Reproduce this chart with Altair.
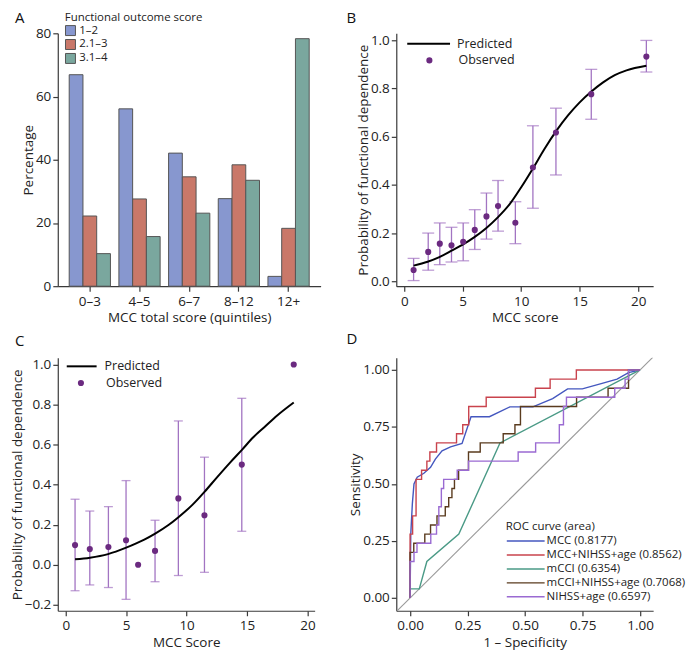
import altair as alt
import pandas as pd

FONT = "Open Sans"
INK = "#222222"
AXC = "#3a3a3a"

# ---------------- Panel A data ----------------
quintiles = ["0–3", "4–5", "6–7", "8–12", "12+"]
outcome_levels = ["1–2", "2.1–3", "3.1–4"]
pct_1_2 = [66.9, 56.1, 42.1, 27.7, 3.1]
pct_2_3 = [22.2, 27.6, 34.6, 38.4, 18.3]
pct_3_4 = [10.3, 15.7, 23.1, 33.5, 78.3]
bar_colors = ["#8797CF", "#C97869", "#7AA79E"]

# ---------------- Panel B data ----------------
b_curve_x = [0.8, 2, 3, 4, 5, 6, 7, 8, 9, 10, 11, 12, 13, 14, 15, 16, 17, 18, 19, 20.7]
b_curve_y = [0.065, 0.081, 0.10, 0.126, 0.152, 0.183, 0.22, 0.265, 0.319, 0.39, 0.468, 0.55,
             0.624, 0.688, 0.742, 0.787, 0.825, 0.855, 0.875, 0.894]
b_obs_x = [0.8, 2.05, 3.04, 4.04, 5.04, 6.03, 7.03, 8.02, 9.5, 11.0, 12.97, 15.99, 20.7]
b_obs_y = [0.047, 0.122, 0.156, 0.149, 0.164, 0.213, 0.269, 0.312, 0.243, 0.472, 0.617, 0.776, 0.932]
b_obs_lo = [0.003, 0.046, 0.069, 0.08, 0.085, 0.132, 0.175, 0.208, 0.156, 0.303, 0.441, 0.672, 0.868]
b_obs_hi = [0.095, 0.2, 0.242, 0.224, 0.242, 0.297, 0.366, 0.418, 0.33, 0.645, 0.718, 0.879, 0.999]

# ---------------- Panel C data ----------------
c_curve_x = [0.77, 2.0, 3.5, 5.0, 6.5, 7.4, 8.5, 9.3, 10.5, 11.5, 12.5, 13.6, 14.6, 15.5, 16.5,
             17.5, 18.87]
c_curve_y = [0.027, 0.035, 0.053, 0.085, 0.125, 0.155, 0.198, 0.236, 0.30, 0.365, 0.435, 0.51,
             0.575, 0.635, 0.69, 0.745, 0.81]
c_obs_x = [0.77, 1.99, 3.53, 4.99, 5.99, 7.39, 9.32, 11.48, 14.57, 18.87]
c_obs_y = [0.098, 0.078, 0.088, 0.122, 0.0, 0.069, 0.331, 0.247, 0.50, 1.0]
c_obs_lo = [-0.13, -0.101, -0.114, -0.173, None, -0.085, -0.054, -0.038, 0.167, None]
c_obs_hi = [0.327, 0.268, 0.29, 0.42, None, 0.222, 0.718, 0.537, 0.831, None]

# ---------------- Panel D data (ROC) ----------------
roc_names = ["MCC (0.8177)", "MCC+NIHSS+age (0.8562)", "mCCI (0.6354)",
             "mCCI+NIHSS+age (0.7068)", "NIHSS+age (0.6597)"]
roc_colors = ["#4457BF", "#C9434D", "#4A9A86", "#5A3B1E", "#9A6AD2"]
# smooth / linear curves
mcc_fpr = [0, 0.003, 0.01, 0.017, 0.031, 0.06, 0.089, 0.11, 0.139, 0.176, 0.226, 0.265, 0.345,
           0.434, 0.534, 0.62, 0.685, 0.749, 0.835, 0.9, 0.95, 1.0]
mcc_tpr = [0, 0.28, 0.415, 0.50, 0.53, 0.547, 0.573, 0.609, 0.645, 0.663, 0.678, 0.795, 0.795,
           0.838, 0.838, 0.874, 0.917, 0.917, 0.941, 0.96, 0.988, 1.0]
mcci_fpr = [0, 0, 0.04, 0.073, 0.212, 0.391, 1.0]
mcci_tpr = [0, 0.04, 0.04, 0.16, 0.28, 0.68, 1.0]
# step curves: (fpr where the rise happens, sensitivity after the rise)
mccx_fpr = [0, 0, 0.011, 0.026, 0.05, 0.073, 0.086, 0.115, 0.202, 0.229, 0.255, 0.331, 0.545,
            0.609, 0.723, 1.0]
mccx_tpr = [0, 0.28, 0.36, 0.52, 0.56, 0.60, 0.64, 0.68, 0.72, 0.76, 0.84, 0.88, 0.92, 0.96, 1.0, 1.0]
mccix_fpr = [0, 0, 0.016, 0.064, 0.089, 0.117, 0.153, 0.168, 0.182, 0.193, 0.211, 0.254, 0.305,
             0.405, 0.456, 0.48, 0.724, 0.861, 0.95, 1.0]
mccix_tpr = [0, 0.20, 0.24, 0.28, 0.32, 0.36, 0.40, 0.44, 0.48, 0.52, 0.56, 0.64, 0.68, 0.72, 0.76,
             0.84, 0.88, 0.92, 1.0, 1.0]
nihss_fpr = [0, 0, 0.017, 0.03, 0.09, 0.115, 0.125, 0.136, 0.146, 0.205, 0.254, 0.47, 0.546, 0.649,
             0.667, 0.68, 0.89, 0.935, 0.95, 1.0]
nihss_tpr = [0, 0.16, 0.20, 0.24, 0.28, 0.32, 0.40, 0.48, 0.52, 0.56, 0.60, 0.64, 0.68, 0.76, 0.84,
             0.88, 0.92, 0.96, 1.0, 1.0]
diag = [-0.06, 1.06]

# ---------------- Tables ----------------
rowsA = []
for lvl, vals in zip(outcome_levels, [pct_1_2, pct_2_3, pct_3_4]):
    for q, v in zip(quintiles, vals):
        rowsA.append({"quintile": q, "score": lvl, "pct": v})
dfA = pd.DataFrame(rowsA)

dfB_curve = pd.DataFrame({"x": b_curve_x, "y": b_curve_y, "s": "Predicted"})
dfB_obs = pd.DataFrame({"x": b_obs_x, "y": b_obs_y, "lo": b_obs_lo, "hi": b_obs_hi, "s": "Observed"})
dfC_curve = pd.DataFrame({"x": c_curve_x, "y": c_curve_y, "s": "Predicted"})
dfC_obs = pd.DataFrame({"x": c_obs_x, "y": c_obs_y, "lo": c_obs_lo, "hi": c_obs_hi, "s": "Observed"})
dfC_err = dfC_obs.dropna()


def roc_df(name, xs, ys):
    return pd.DataFrame({"fpr": xs, "tpr": ys, "series": name, "ord": list(range(len(xs)))})


dfD_lin = pd.concat([roc_df(roc_names[0], mcc_fpr, mcc_tpr),
                     roc_df(roc_names[2], mcci_fpr, mcci_tpr)])
dfD_step = pd.concat([roc_df(roc_names[1], mccx_fpr, mccx_tpr),
                      roc_df(roc_names[3], mccix_fpr, mccix_tpr),
                      roc_df(roc_names[4], nihss_fpr, nihss_tpr)])
dfD_diag = pd.DataFrame({"fpr": diag, "tpr": diag})


def panel_letter(t, px, py):
    # panel tag placed relative to the panel's plot area (annotation, not data)
    return alt.Chart(pd.DataFrame({"t": [t]})).mark_text(
        fontSize=15, font=FONT, color="#111111", align="left", baseline="top"
    ).encode(text="t:N", x=alt.value(px), y=alt.value(py))


def line_symbol(k):
    # horizontal stroke starting at the legend's left edge, k symbol-radii long to the right
    return f"M-1,0H{k}"


# ---------------- Panel A ----------------
barsA = alt.Chart(dfA).mark_bar(stroke="#555555", strokeWidth=1).encode(
    x=alt.X("quintile:N", sort=quintiles,
            scale=alt.Scale(paddingInner=0.17, paddingOuter=0.23),
            axis=alt.Axis(title="MCC total score (quintiles)", labelAngle=0)),
    xOffset=alt.XOffset("score:N", sort=outcome_levels,
                        scale=alt.Scale(paddingInner=0, paddingOuter=0)),
    y=alt.Y("pct:Q", scale=alt.Scale(domain=[0, 80], nice=False),
            axis=alt.Axis(title="Percentage", values=[0, 20, 40, 60, 80])),
    color=alt.Color("score:N", sort=outcome_levels,
                    scale=alt.Scale(domain=outcome_levels, range=bar_colors),
                    legend=alt.Legend(title="Functional outcome score", orient="none",
                                      legendX=7, legendY=-21, symbolType="square",
                                      symbolSize=100, symbolStrokeColor="#555555",
                                      symbolStrokeWidth=1, labelFontSize=11.5,
                                      titleFontSize=11.5, titleFontWeight="normal",
                                      rowPadding=-1, titlePadding=1, labelOffset=3,
                                      padding=0)),
)
chartA = alt.layer(barsA, panel_letter("A", -43, -22)).properties(width=264, height=254)

# ---------------- Panels B and C ----------------
purple_dot = "#6B2A80"
purple_err = "#A274C2"


def prob_panel(df_curve, df_obs, df_err, xdom, ydom, yvals, xtitle, cap, leg_line, leg_dot, tag):
    xs = alt.Scale(domain=xdom, nice=False, zero=False)
    ys = alt.Scale(domain=ydom, nice=False, zero=False)
    xa = alt.Axis(title=xtitle, values=[0, 5, 10, 15, 20])
    ya = alt.Axis(title="Probability of functional dependence", values=yvals, format=".1f")
    err = alt.Chart(df_err).mark_errorbar(ticks=True, size=cap, thickness=1.3, color=purple_err).encode(
        x=alt.X("x:Q", scale=xs, axis=xa),
        y=alt.Y("lo:Q", scale=ys, axis=ya),
        y2="hi:Q",
    )
    line = alt.Chart(df_curve).mark_line(strokeWidth=2, interpolate="monotone").encode(
        x=alt.X("x:Q", scale=xs, axis=xa),
        y=alt.Y("y:Q", scale=ys, axis=ya),
        color=alt.Color("s:N", scale=alt.Scale(domain=["Predicted"], range=["#000000"]),
                        legend=alt.Legend(title=None, orient="none", legendX=leg_line[0],
                                          legendY=leg_line[1], symbolType=line_symbol(leg_line[2]),
                                          symbolSize=169, symbolStrokeWidth=2,
                                          symbolStrokeColor="#000000",
                                          labelFontSize=12.5, labelOffset=leg_line[3], padding=0)),
    )
    pts = alt.Chart(df_obs).mark_point(filled=True, size=38, opacity=1, color=purple_dot).encode(
        x=alt.X("x:Q", scale=xs, axis=xa),
        y=alt.Y("y:Q", scale=ys, axis=ya),
        shape=alt.Shape("s:N", scale=alt.Scale(domain=["Observed"], range=["circle"]),
                        legend=alt.Legend(title=None, orient="none", legendX=leg_dot[0],
                                          legendY=leg_dot[1], symbolSize=38,
                                          symbolFillColor=purple_dot, symbolStrokeWidth=0,
                                          labelFontSize=12.5, labelOffset=leg_dot[2], padding=0)),
    )
    return alt.layer(err, line, pts, tag).resolve_legend(color="independent", shape="independent")


chartB = prob_panel(dfB_curve, dfB_obs, dfB_obs, [-0.68, 21.28], [-0.0203, 1.0285],
                    [0, 0.2, 0.4, 0.6, 0.8, 1.0], "MCC score", 12,
                    (10, 3, 5.615, 36), (27, 21, 23), panel_letter("B", -50, -22)).properties(
    width=258, height=254)

chartC = prob_panel(dfC_curve, dfC_obs, dfC_err, [-0.66, 20.6], [-0.23, 1.033],
                    [-0.2, 0, 0.2, 0.4, 0.6, 0.8, 1.0], "MCC Score", 9,
                    (8, 1, 3.615, 24), (17, 19, 19), panel_letter("C", -43, -24)).properties(
    width=258, height=254)

# ---------------- Panel D ----------------
xsD = alt.Scale(domain=[-0.06, 1.057], nice=False, zero=False)
ysD = alt.Scale(domain=[-0.056, 1.053], nice=False, zero=False)
xaD = alt.Axis(title="1 – Specificity", values=[0, 0.25, 0.5, 0.75, 1.0], format=".2f")
yaD = alt.Axis(title="Sensitivity", values=[0, 0.25, 0.5, 0.75, 1.0], format=".2f")
legD = alt.Legend(title="ROC curve (area)", orient="none", legendX=110, legendY=164,
                  symbolType=line_symbol(4.846), symbolSize=169, symbolStrokeWidth=1.5,
                  labelFontSize=11.5, titleFontSize=11.5, titleFontWeight="normal",
                  rowPadding=1, labelOffset=26, titlePadding=1, padding=0)
colD = alt.Color("series:N", sort=roc_names,
                 scale=alt.Scale(domain=roc_names, range=roc_colors), legend=legD)
swD = alt.StrokeWidth("series:N", scale=alt.Scale(domain=roc_names, range=[1.4, 1.4, 1.4, 2.2, 1.4]),
                      legend=None)

diag_line = alt.Chart(dfD_diag).mark_line(color="#9a9a9a", strokeWidth=1.1, clip=True).encode(
    x=alt.X("fpr:Q", scale=xsD, axis=xaD),
    y=alt.Y("tpr:Q", scale=ysD, axis=yaD),
)
lin = alt.Chart(dfD_lin).mark_line().encode(
    x=alt.X("fpr:Q", scale=xsD, axis=xaD),
    y=alt.Y("tpr:Q", scale=ysD, axis=yaD),
    color=colD, strokeWidth=swD, order="ord:Q",
)
step = alt.Chart(dfD_step).mark_line(interpolate="step-after").encode(
    x=alt.X("fpr:Q", scale=xsD, axis=xaD),
    y=alt.Y("tpr:Q", scale=ysD, axis=yaD),
    color=colD, strokeWidth=swD, order="ord:Q",
)
chartD = alt.layer(diag_line, lin, step, panel_letter("D", -50, -26)).properties(
    width=258, height=254)

chart = alt.concat(chartA, chartB, chartC, chartD, columns=2,
                   spacing={"row": 72, "column": 76}).properties(
    bounds="flush", padding={"left": 2, "top": 2, "right": 0, "bottom": 0}
).resolve_scale(
    x="independent", y="independent", color="independent", shape="independent",
    strokeWidth="independent"
).resolve_legend(color="independent", shape="independent").configure_view(
    stroke=None
).configure_axis(
    grid=False, domainColor=AXC, tickColor=AXC, labelColor=INK, titleColor=INK,
    labelFont=FONT, titleFont=FONT, labelFontSize=13.5, titleFontSize=13.5,
    titleFontWeight="normal", tickSize=5, labelPadding=3, titlePadding=3,
    domainWidth=1.2, tickWidth=1.2
).configure_axisY(titlePadding=0, labelPadding=2).configure_legend(
    labelFont=FONT, titleFont=FONT, labelColor=INK, titleColor=INK
)

chart.save("out.html", embed_options={"renderer": "svg", "actions": False})
